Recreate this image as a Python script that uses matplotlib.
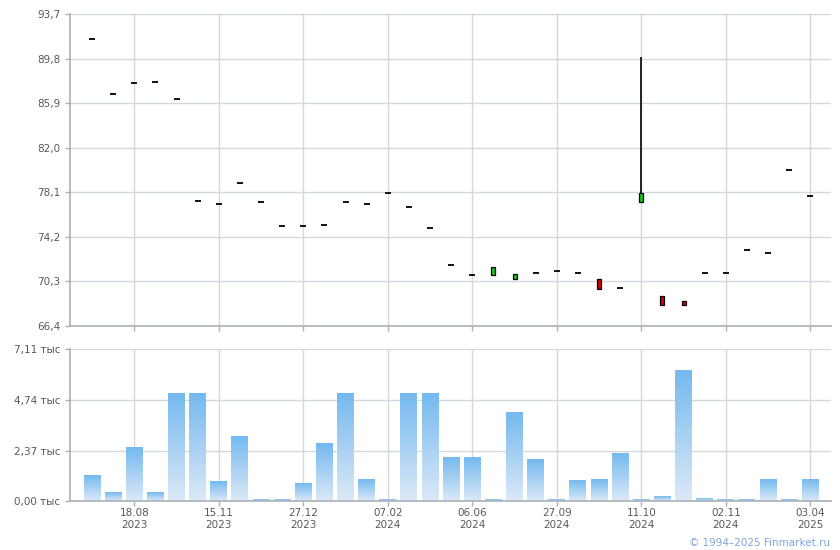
import numpy as np
import matplotlib
matplotlib.use("Agg")
import matplotlib.pyplot as plt
from matplotlib.colors import LinearSegmentedColormap

# ---- data ----
opens = [91.5, 86.7, 87.65, 87.77, 86.28, 77.31, 77.07, 78.89, 77.22, 75.12,
         75.12, 75.21, 77.22, 77.05, 78.01, 76.79, 74.95, 71.70, 70.91, 70.88,
         70.56, 71.0, 71.18, 71.0, 70.56, 69.69, 77.28, 68.99, 68.55, 71.0,
         71.0, 73.02, 72.75, 80.03, 77.75]
closes = [91.5, 86.7, 87.65, 87.77, 86.28, 77.31, 77.07, 78.89, 77.22, 75.12,
          75.12, 75.21, 77.22, 77.05, 78.01, 76.79, 74.95, 71.70, 70.91, 71.53,
          70.99, 71.0, 71.18, 71.0, 69.65, 69.69, 78.01, 68.25, 68.25, 71.0,
          71.0, 73.02, 72.75, 80.03, 77.75]
highs = [max(o, c) for o, c in zip(opens, closes)]
highs[26] = 89.98
lows = [min(o, c) for o, c in zip(opens, closes)]
volumes = [1.18, 0.39, 2.49, 0.39, 5.01, 5.01, 0.90, 3.00, 0.05, 0.05,
           0.81, 2.67, 5.01, 0.99, 0.05, 5.01, 5.01, 2.02, 2.02, 0.05,
           4.12, 1.93, 0.05, 0.95, 0.99, 2.21, 0.05, 0.20, 6.08, 0.10,
           0.05, 0.05, 0.99, 0.05, 0.99]
tick_idx = [2, 6, 10, 14, 18, 22, 26, 30, 34]
tick_labels = ["18.08\n2023", "15.11\n2023", "27.12\n2023", "07.02\n2024",
               "06.06\n2024", "27.09\n2024", "11.10\n2024", "02.11\n2024",
               "03.04\n2025"]
price_ticks = [66.4, 70.3, 74.2, 78.1, 82.0, 85.9, 89.8, 93.7]
vol_ticks = [0.0, 2.37, 4.74, 7.11]

# ---- style ----
GRID = "#d3d8dc"
SPINE = "#a9b0b8"
TXT = "#555a60"

fig = plt.figure(figsize=(8.4, 5.5), dpi=100)
ax1 = fig.add_axes([70.3/840, 1-326/550, (831-70.3)/840, (326-14.3)/550])
ax2 = fig.add_axes([70.3/840, 1-501.3/550, (831-70.3)/840, (501.3-349)/550])

x = np.arange(len(opens))
for ax in (ax1, ax2):
    ax.set_xlim(-1.03, 34.98)
    for s in ("top", "right"):
        ax.spines[s].set_visible(False)
    for s in ("left", "bottom"):
        ax.spines[s].set_color(SPINE)
        ax.spines[s].set_linewidth(1.2)
    ax.set_xticks(tick_idx)
    ax.grid(True, color=GRID, linewidth=1.0)
    ax.set_axisbelow(True)
    ax.tick_params(colors=SPINE, labelcolor=TXT, length=3.5, width=1,
                   labelsize=7.5)
    ax.tick_params(axis="x", pad=1.5)

# top: candles
ax1.set_ylim(66.4, 93.7)
ax1.set_yticks(price_ticks)
ax1.set_yticklabels([f"{v:.1f}".replace(".", ",") for v in price_ticks])
ax1.set_xticklabels([])
for i in x:
    o, c, h, l = opens[i], closes[i], highs[i], lows[i]
    if h > max(o, c):
        ax1.vlines(i, max(o, c), h, color="black", linewidth=1.2, zorder=3)
    if abs(o - c) < 1e-9:
        ax1.hlines(o, i - 0.14, i + 0.14, color="black", linewidth=1.3, zorder=4)
    else:
        col = "#14c814" if c > o else "#d40000"
        ax1.bar(i, abs(c - o), bottom=min(o, c), width=0.19, color=col,
                edgecolor="black", linewidth=0.9, zorder=4)

# bottom: volume bars with gradient
ax2.set_ylim(0, 7.11)
ax2.set_yticks(vol_ticks)
ax2.set_yticklabels([f"{v:.2f} тыс".replace(".", ",") for v in vol_ticks])
ax2.set_xticklabels(tick_labels, linespacing=1.2)
cmap = LinearSegmentedColormap.from_list("g", ["#dce9f7", "#74b9ef"])
grad = np.linspace(0, 1, 256).reshape(-1, 1)
bw = 0.8
for i, v in zip(x, volumes):
    ax2.imshow(grad, extent=[i - bw/2, i + bw/2, 0, v], origin="lower",
               aspect="auto", cmap=cmap, zorder=2, interpolation="bilinear")
ax2.set_xlim(-1.03, 34.98)
ax2.set_ylim(0, 7.11)

fig.text(830/840, 1-543/550, "© 1994–2025 Finmarket.ru", ha="right",
         va="center", color="#7ea6dc", fontsize=7.5)

fig.savefig("out.png", dpi=100)
